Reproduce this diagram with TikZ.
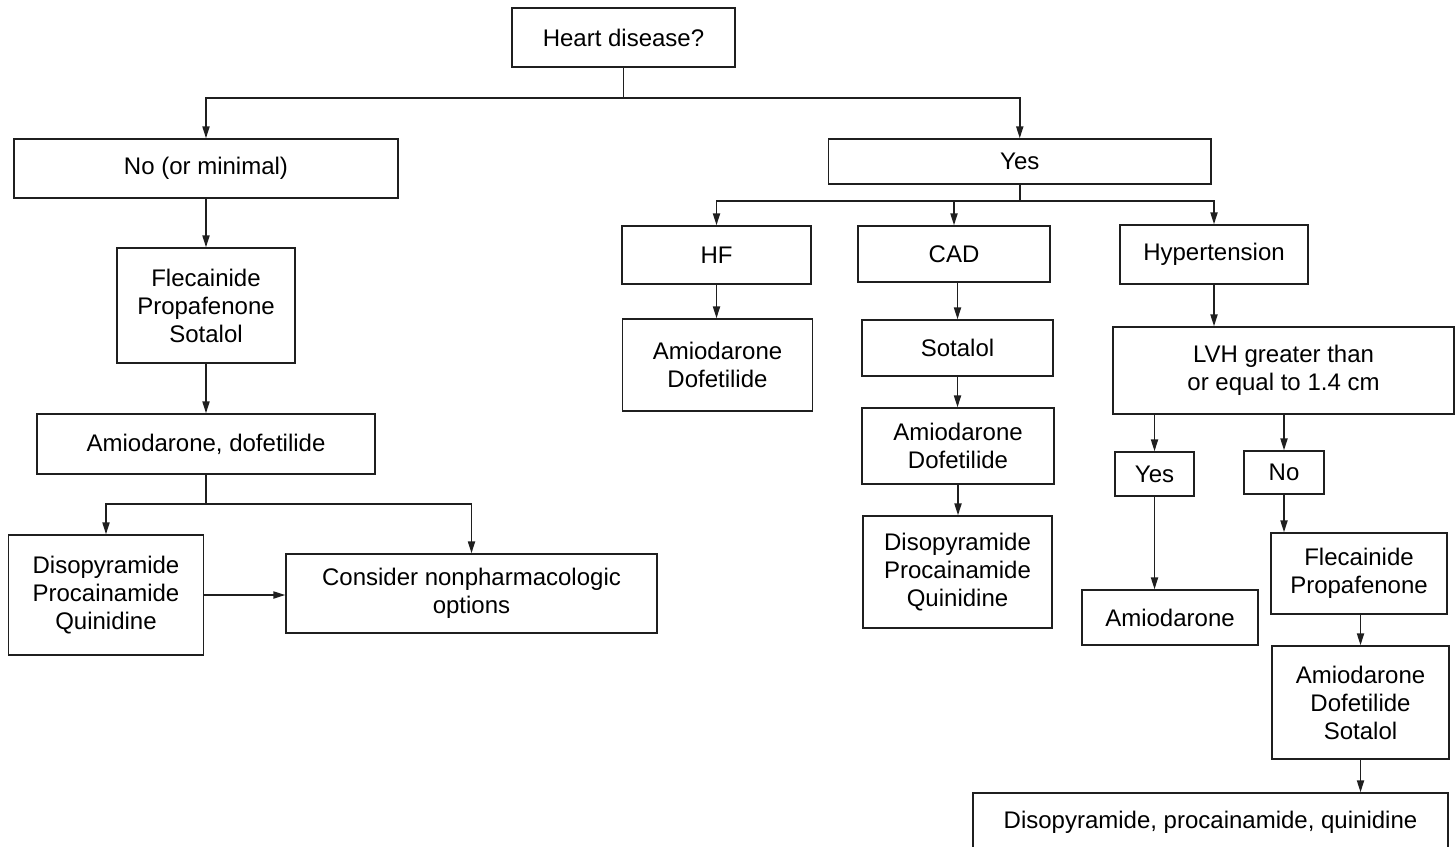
\documentclass[tikz,border=0pt]{standalone}
\usepackage{fontspec}
\setmainfont{Liberation Sans}
\usetikzlibrary{arrows.meta,calc}
\begin{document}
\begin{tikzpicture}[x=0.5pt,y=-0.5pt,
  line width=0.75pt,
  bx/.style={draw=black!88, line width=0.75pt, inner sep=0pt, align=center,
    font=\fontsize{12}{14}\selectfont},
  arr/.style={draw=black!88, -{Triangle[length=6pt,width=3.6pt]}},
  ln/.style={draw=black!88}]
\useasboundingbox (0,0) rectangle (1455,846);
\clip (0,0) rectangle (1455,846);
% nodes
\node[bx, minimum width=111.5pt, minimum height=29.5pt] (heart) at (623.5,37.5) {Heart disease?};
\node[bx, minimum width=192pt, minimum height=29.5pt] (no) at (206,168.5) {No (or minimal)};
\node[bx, minimum width=89pt, minimum height=57.5pt] (fleca) at (206,305.5) {Flecainide\\Propafenone\\Sotalol};
\node[bx, minimum width=169pt, minimum height=30pt] (amdo) at (206,444) {Amiodarone, dofetilide};
\node[bx, minimum width=97.5pt, minimum height=60pt] (disL) at (106,595) {Disopyramide\\Procainamide\\Quinidine};
\node[bx, minimum width=185.5pt, minimum height=39.5pt] (cons) at (471.5,593.5) {Consider nonpharmacologic\\options};
\node[bx, minimum width=191.25pt, minimum height=22.5pt] (yes) at (1019.75,161.5) {Yes};
\node[bx, minimum width=94.5pt, minimum height=29pt] (hf) at (716.5,255) {HF};
\node[bx, minimum width=96pt, minimum height=28pt] (cad) at (954,254) {CAD};
\node[bx, minimum width=94pt, minimum height=29.5pt] (hyp) at (1214,254.5) {Hypertension};
\node[bx, minimum width=95pt, minimum height=46pt] (amHF) at (717.5,365) {Amiodarone\\Dofetilide};
\node[bx, minimum width=95.5pt, minimum height=28pt] (sot) at (957.5,348) {Sotalol};
\node[bx, minimum width=170.5pt, minimum height=43.5pt] (lvh) at (1283.5,370.5) {LVH greater than\\or equal to 1.4 cm};
\node[bx, minimum width=96pt, minimum height=38pt] (amCAD) at (958,446) {Amiodarone\\Dofetilide};
\node[bx, minimum width=94.5pt, minimum height=56pt] (disCAD) at (957.5,572) {Disopyramide\\Procainamide\\Quinidine};
\node[bx, minimum width=39.5pt, minimum height=22pt] (yes2) at (1154.5,474) {Yes};
\node[bx, minimum width=40pt, minimum height=21.5pt] (no2) at (1284,472.5) {No};
\node[bx, minimum width=88pt, minimum height=27.5pt] (amio) at (1170,617.5) {Amiodarone};
\node[bx, minimum width=88pt, minimum height=40.5pt] (flpr) at (1359,573.5) {Flecainide\\Propafenone};
\node[bx, minimum width=88.5pt, minimum height=56.5pt] (ads) at (1360.5,702.5) {Amiodarone\\Dofetilide\\Sotalol};
\node[bx, minimum width=237.5pt, minimum height=29pt] (final) at (1210.5,822) {Disopyramide, procainamide, quinidine};
% connectors
\draw[ln] (heart.south) -- ++(0,30) coordinate (hj);
\draw[arr] (hj) -| (no.north);
\draw[arr] (hj) -| (yes.north);
\draw[arr] (no.south) -- (fleca.north);
\draw[arr] (fleca.south) -- (amdo.north);
\draw[ln] (amdo.south) -- ++(0,29) coordinate (aj);
\draw[arr] (aj) -| (disL.north);
\draw[arr] (aj) -| (cons.north);
\draw[arr] (disL.east) -- (disL.east -| cons.west);
\draw[ln] (yes.south) -- ++(0,16) coordinate (yj);
\draw[arr] (yj) -| (hf.north);
\draw[arr] (yj) -| (cad.north);
\draw[arr] (yj) -| (hyp.north);
\draw[arr] (hf.south) -- (hf.south |- amHF.north);
\draw[arr] (sot.north |- cad.south) -- (sot.north);
\draw[arr] (sot.south) -- (sot.south |- amCAD.north);
\draw[arr] (amCAD.south) -- (amCAD.south |- disCAD.north);
\draw[arr] (hyp.south) -- (hyp.south |- lvh.north);
\draw[arr] (yes2.north |- lvh.south) -- (yes2.north);
\draw[arr] (no2.north |- lvh.south) -- (no2.north);
\draw[arr] (yes2.south) -- (yes2.south |- amio.north);
\draw[arr] (no2.south) -- (no2.south |- flpr.north);
\draw[arr] (ads.north |- flpr.south) -- (ads.north);
\draw[arr] (ads.south) -- (ads.south |- final.north);
\end{tikzpicture}
\end{document}
